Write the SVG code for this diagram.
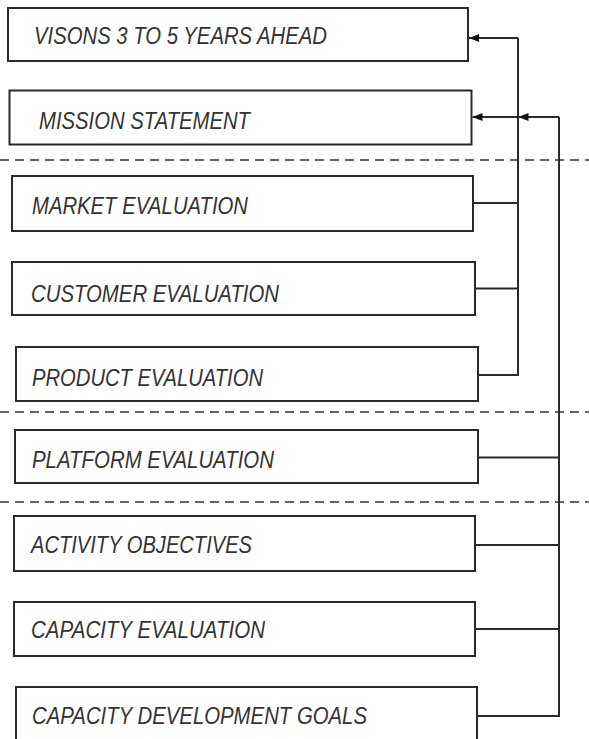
<svg xmlns="http://www.w3.org/2000/svg" width="589" height="739" viewBox="0 0 589 739">
<style>
.box{fill:#fff;stroke:#2a2a2a;stroke-width:2}
.lbl{font-family:"Liberation Sans",Arial,sans-serif;font-style:italic;font-size:23px;fill:#333}
.con{fill:none;stroke:#2a2a2a;stroke-width:2}
.sep{stroke:#333;stroke-width:1.6;stroke-dasharray:9 6}
</style>
<defs>
<marker id="ah" viewBox="0 0 10 8" refX="10" refY="4" markerWidth="10" markerHeight="8" markerUnits="userSpaceOnUse" orient="auto">
<path d="M0,0 L10,4 L0,8 Z" fill="#111"/>
</marker>
</defs>
<rect width="589" height="739" fill="#fff"/>
<g id="separators">
<line class="sep" x1="0" y1="160" x2="589" y2="160"/>
<line class="sep" x1="0" y1="412" x2="589" y2="412"/>
<line class="sep" x1="0" y1="502" x2="589" y2="502"/>
</g>
<g id="n1"><rect class="box" x="8" y="8" width="460" height="53"/><text class="lbl" x="34" y="44" textLength="293" lengthAdjust="spacingAndGlyphs">VISONS  3 TO 5 YEARS AHEAD</text></g>
<g id="n2"><rect class="box" x="9.5" y="90.5" width="462" height="54"/><text class="lbl" x="39" y="129" textLength="211" lengthAdjust="spacingAndGlyphs">MISSION STATEMENT</text></g>
<g id="n3"><rect class="box" x="12" y="176" width="461" height="55"/><text class="lbl" x="32" y="214" textLength="216" lengthAdjust="spacingAndGlyphs">MARKET EVALUATION</text></g>
<g id="n4"><rect class="box" x="12" y="262" width="463" height="53"/><text class="lbl" x="31" y="301.5" textLength="248" lengthAdjust="spacingAndGlyphs">CUSTOMER EVALUATION</text></g>
<g id="n5"><rect class="box" x="16" y="347" width="462" height="54"/><text class="lbl" x="32" y="385.5" textLength="231" lengthAdjust="spacingAndGlyphs">PRODUCT EVALUATION</text></g>
<g id="n6"><rect class="box" x="15" y="430" width="463" height="53"/><text class="lbl" x="32" y="467.5" textLength="242" lengthAdjust="spacingAndGlyphs">PLATFORM EVALUATION</text></g>
<g id="n7"><rect class="box" x="14" y="516" width="461" height="55"/><text class="lbl" x="31" y="553" textLength="221" lengthAdjust="spacingAndGlyphs">ACTIVITY OBJECTIVES</text></g>
<g id="n8"><rect class="box" x="14" y="602" width="461" height="54"/><text class="lbl" x="31" y="638" textLength="234" lengthAdjust="spacingAndGlyphs">CAPACITY EVALUATION</text></g>
<g id="n9"><rect class="box" x="16" y="687" width="461" height="60"/><text class="lbl" x="32" y="724" textLength="335" lengthAdjust="spacingAndGlyphs">CAPACITY DEVELOPMENT GOALS</text></g>
<g id="connectors">
<path class="con" d="M473,203 H518 M475,288.5 H518 M478,375 H518 V38"/>
<path class="con" d="M518,38 H469" marker-end="url(#ah)"/>
<path class="con" d="M478,457.5 H559 M475,545 H559 M475,629 H559 M477,716 H559 V117"/>
<path class="con" d="M559,117 H518.5" marker-end="url(#ah)"/>
<path class="con" d="M518.5,117 H472.5" marker-end="url(#ah)"/>
</g>
</svg>
